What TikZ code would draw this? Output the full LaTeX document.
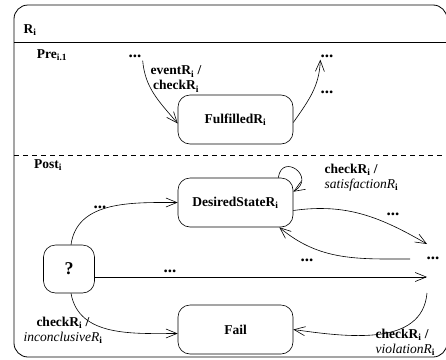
\documentclass[tikz,border=0pt]{standalone}
\usepackage{fontspec}
\setmainfont{Liberation Serif}
\usetikzlibrary{arrows.meta}

\begin{document}
\begin{tikzpicture}[
        x=1pt,y=1pt,
        font=\fontsize{13.5}{15}\selectfont\bfseries,
        statebox/.style={draw,rounded corners=12pt,minimum width=115pt,minimum height=49pt,inner sep=0pt},
        dotsnode/.style={inner sep=1pt,font=\fontsize{17}{17}\selectfont\bfseries},
        trans/.style={-{Straight Barb[length=11pt,width=9pt]}},
        every path/.append style={line width=0.6pt}
    ]
        \useasboundingbox (0,0) rectangle (446,-359);

        % frame with its two regions
        \draw [line width=0.8pt,rounded corners=14pt] (14,-5) rectangle (447,-357);
        \draw (14,-42) -- (447,-42);
        \draw [dash pattern=on 5pt off 4pt] (14,-155) -- (447,-155);

        \node [anchor=west] (rname) at (20,-30) {R\textsubscript{i}};
        \node (pre) at (52,-55) {Pre\textsubscript{i.1}};
        \node (post) at (48,-165) {Post\textsubscript{i}};

        % states
        \node [statebox] (ful)  at (235.5,-119.5) {FulfilledR\textsubscript{i}};
        \node [statebox] (ds)   at (235.5,-202.5) {DesiredStateR\textsubscript{i}};
        \node [statebox] (fail) at (235.5,-329.5) {Fail};
        \node [statebox,minimum width=51pt,minimum height=48pt,font=\fontsize{18}{20}\selectfont\bfseries] (q) at (69,-269) {?};

        \node [dotsnode] (pa) at (135,-56) {...};
        \node [dotsnode] (pb) at (327,-56) {...};
        \node [dotsnode] (rd) at (433,-258) {...};
        \coordinate (rtop) at (427,-244);
        \coordinate (rmid) at (410,-259);
        \coordinate (rhor) at (427,-277);
        \coordinate (rbot) at (427,-293);

        % precondition
        \draw [trans] ([yshift=-2pt]pa.south east) to[out=-85,in=130] ([yshift=-4pt]ful.west);
        \draw [trans] ([yshift=-3pt]ful.east) to[out=55,in=-92] ([xshift=1pt,yshift=-1pt]pb.south west);
        \node [align=center] (evlbl) at (176,-79) {eventR\textsubscript{i} /\\checkR\textsubscript{i}};
        \node [dotsnode] (pblbl) at (327,-92) {...};

        % postcondition
        \draw [trans] ([xshift=-15pt]ds.north east) .. controls +(82:26pt) and +(32:28pt) .. ([yshift=-14pt]ds.north east);
        \node [align=left,anchor=west] (satlbl) at (321,-178) {checkR\textsubscript{i} /\\{\mdseries\itshape satisfactionR}\textsubscript{i}};

        \draw [trans] ([xshift=2pt]q.north) to[out=82,in=180] (ds.west);
        \node [dotsnode] (qdslbl) at (100,-207) {...};

        \draw [trans] ([yshift=-8pt]ds.east) to[out=8,in=150] (rtop);
        \node [dotsnode] (dsrlbl) at (393,-214) {...};

        \draw [trans] (rmid) to[out=180,in=-40] ([xshift=-14pt]ds.south east);
        \node [dotsnode] (rdslbl) at (307,-260) {...};

        \draw [trans] ([yshift=-8pt]q.east) -- (rhor);
        \node [dotsnode] (qrlbl) at (170,-271) {...};

        \draw [trans] ([xshift=2pt]q.south) to[out=-80,in=180] ([yshift=-4pt]fail.west);
        \node [align=center] (inclbl) at (63,-330) {checkR\textsubscript{i} /\\{\mdseries\itshape inconclusiveR}\textsubscript{i}};

        \draw [trans] (rbot) to[out=-95,in=-8] (fail.east);
        \node [align=left,anchor=west] (vlbl) at (372,-342) {checkR\textsubscript{i} /\\{\mdseries\itshape violationR}\textsubscript{i}};
    \end{tikzpicture}
\end{document}
